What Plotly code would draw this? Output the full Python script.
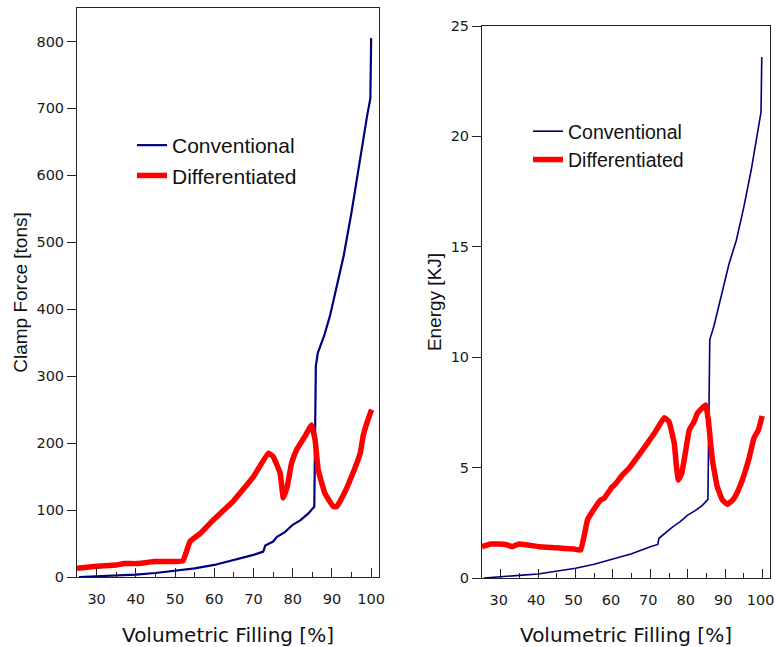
import plotly.graph_objects as go
from plotly.subplots import make_subplots

# ---- Data: Clamp force [tons] ----
clamp_conv_x = [25.5, 30, 35, 40, 45, 50, 55, 60, 65, 70, 72.5, 73, 75, 76, 78, 80, 82, 84, 85.5,
                85.9, 86.4, 88, 89.5, 91, 93, 95, 97, 99, 99.8, 100]
clamp_conv_y = [0, 1, 2, 3.5, 6, 9, 13, 18, 25, 33, 38, 47, 53, 60, 67, 78, 85, 95, 105,
                315, 335, 360, 390, 430, 480, 545, 620, 690, 715, 805]

clamp_diff_x = [25, 30, 35, 37, 40, 45, 50, 52, 53.8, 56.4, 59.7, 64.8, 70, 73.8, 75, 76.8, 77.6,
                78.6, 79.7, 81, 83.1, 84.8, 85.7, 86.5, 88.2, 90.4, 91.2, 92.9, 95, 97.2, 98, 98.9, 100.1]
clamp_diff_y = [13, 16, 18, 20, 20, 23, 23, 24, 53, 65, 85, 113, 150, 185, 180, 155, 118,
                135, 170, 190, 210, 227, 205, 160, 125, 105, 105, 122, 150, 185, 212, 230, 250]

# ---- Data: Energy [KJ] ----
energy_conv_x = [25.5, 30, 35, 40, 45, 50, 55, 60, 65, 70, 72, 72.3, 74, 76, 78, 80, 82, 84, 85.4,
                 85.9, 87, 89, 91, 93, 95, 97, 99, 99.6, 99.8]
energy_conv_y = [0, 0.07, 0.12, 0.18, 0.3, 0.44, 0.62, 0.85, 1.1, 1.42, 1.52, 1.8, 2.05, 2.32, 2.55,
                 2.85, 3.05, 3.3, 3.56, 10.8, 11.4, 12.8, 14.2, 15.3, 16.8, 18.5, 20.5, 21.1, 23.6]

energy_diff_x = [25, 27.3, 31.3, 33.1, 34.9, 40.2, 44.7, 49.6, 51.4, 53.2, 54.5, 56.7, 57.6, 59.8,
                 60.7, 62.5, 64.3, 69.2, 71.4, 73.7, 75, 76.4, 77, 77.5, 78.4, 79.5, 80.4, 81.7,
                 82.6, 84.8, 85.5, 86.6, 87.9, 89.3, 90.6, 92, 92.9, 94.6, 96.4, 97.7, 98.9, 99.9]
energy_diff_y = [1.42, 1.54, 1.52, 1.42, 1.54, 1.42, 1.37, 1.31, 1.27, 2.63, 3.0, 3.53, 3.6, 4.13,
                 4.26, 4.66, 4.97, 6.1, 6.63, 7.26, 7.08, 6.1, 5.04, 4.44, 4.74, 5.8, 6.7, 7.08,
                 7.46, 7.84, 7.16, 5.34, 4.13, 3.53, 3.34, 3.53, 3.76, 4.44, 5.42, 6.33, 6.7, 7.34]

x_tick_vals = [30, 40, 50, 60, 70, 80, 90, 100]
clamp_ticks = [0, 100, 200, 300, 400, 500, 600, 700, 800]
energy_ticks = [0, 5, 10, 15, 20, 25]

NAVY = "#00007F"
RED = "#FF0000"
AXC = "#222"
TICKFONT = dict(family="DejaVu Sans", size=14.5, color="#1a1a1a")

fig = make_subplots(rows=1, cols=2)

fig.add_trace(go.Scatter(x=clamp_conv_x, y=clamp_conv_y, mode="lines", name="Conventional",
                         line=dict(color=NAVY, width=2.2), legend="legend"), row=1, col=1)
fig.add_trace(go.Scatter(x=clamp_diff_x, y=clamp_diff_y, mode="lines", name="Differentiated",
                         line=dict(color=RED, width=5.5, shape="spline", smoothing=0.3),
                         legend="legend"), row=1, col=1)
fig.add_trace(go.Scatter(x=energy_conv_x, y=energy_conv_y, mode="lines", name="Conventional",
                         line=dict(color=NAVY, width=1.6), legend="legend2"), row=1, col=2)
fig.add_trace(go.Scatter(x=energy_diff_x, y=energy_diff_y, mode="lines", name="Differentiated",
                         line=dict(color=RED, width=5.5, shape="spline", smoothing=0.3),
                         legend="legend2"), row=1, col=2)

W, H = 775, 647

def xaxis_common(shift=0):
    return dict(range=[25, 102], tickvals=x_tick_vals, ticks="inside", ticklen=9,
                minor=dict(dtick=5, tick0=0, ticks="inside", ticklen=5, tickcolor=AXC),
                showline=True, mirror=True, linecolor=AXC, linewidth=1, tickcolor=AXC,
                showgrid=False, zeroline=False, tickfont=TICKFONT, ticklabelstandoff=9,
                ticklabelshift=shift, ticklabeloverflow="allow",
                automargin=False,
                title=dict(text="Volumetric Filling [%]", standoff=22,
                           font=dict(family="DejaVu Sans", size=20, color="#111")))

fig.update_layout(
    width=W, height=H, margin=dict(l=0, r=0, t=0, b=0, autoexpand=False),
    paper_bgcolor="white", plot_bgcolor="white",
    xaxis=dict(domain=[77 / W, 379 / W], **xaxis_common(0)),
    xaxis2=dict(domain=[482 / W, 770 / W], **xaxis_common(-2)),
    yaxis=dict(domain=[(H - 577) / H, (H - 8) / H], range=[0, 850], tickvals=clamp_ticks,
               ticks="outside", ticklen=9, tickcolor=AXC, showline=True, mirror=True,
               linecolor=AXC, linewidth=1, showgrid=False, zeroline=False, tickfont=TICKFONT,
               automargin=False,
               title=dict(text="Clamp Force [tons]", standoff=3,
                          font=dict(family="Liberation Sans, Arial", size=19, color="#111"))),
    yaxis2=dict(domain=[(H - 578) / H, (H - 26) / H], range=[0, 25], tickvals=energy_ticks,
                ticks="outside", ticklen=9, tickcolor=AXC, showline=True, mirror=True,
                linecolor=AXC, linewidth=1, showgrid=False, zeroline=False, tickfont=TICKFONT,
                automargin=False,
                title=dict(text="Energy [KJ]", standoff=3,
                           font=dict(family="Liberation Sans, Arial", size=19, color="#111"))),
    legend=dict(x=132 / W, y=(H - 125) / H, xanchor="left", yanchor="top",
                bgcolor="rgba(0,0,0,0)", font=dict(family="Liberation Sans, Arial", size=21, color="#111"),
                itemwidth=30, tracegroupgap=0),
    legend2=dict(x=528 / W, y=(H - 112) / H, xanchor="left", yanchor="top",
                 bgcolor="rgba(0,0,0,0)", font=dict(family="Liberation Sans, Arial", size=19.5, color="#111"),
                 itemwidth=30, tracegroupgap=0),
    showlegend=True,
)

fig.write_html("out.html", config={"displayModeBar": False},
               post_script="document.body.style.margin='0px';")
